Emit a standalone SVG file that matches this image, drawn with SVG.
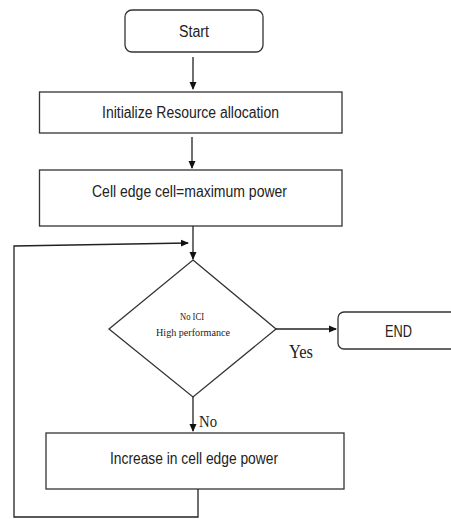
<svg xmlns="http://www.w3.org/2000/svg" width="451" height="519" viewBox="0 0 451 519">
<defs>
<marker id="ah" markerWidth="8" markerHeight="8" refX="7" refY="4" orient="auto" markerUnits="userSpaceOnUse">
<path d="M0,0.5 L8,4 L0,7.5 Z" fill="#111"/>
</marker>
<style>
.box{fill:#fff;stroke:#333;stroke-width:1.3}
.ln{fill:none;stroke:#222;stroke-width:1.3}
.s{font-family:"Liberation Sans",Arial,sans-serif;font-size:16px;fill:#222;text-anchor:middle}
.r{font-family:"Liberation Serif","Times New Roman",serif;fill:#222}
</style>
</defs>
<rect width="451" height="519" fill="#fff"/>
<g id="start">
<rect class="box" x="125" y="10" width="138" height="42" rx="7"/>
<text class="s" x="194" y="37" textLength="30" lengthAdjust="spacingAndGlyphs">Start</text>
</g>
<g id="init">
<rect class="box" x="39.5" y="92" width="302.5" height="41"/>
<text class="s" x="190.5" y="118" textLength="177" lengthAdjust="spacingAndGlyphs">Initialize Resource allocation</text>
</g>
<g id="celledge">
<rect class="box" x="39.5" y="170" width="302.5" height="56"/>
<text class="s" x="189.5" y="197" textLength="195" lengthAdjust="spacingAndGlyphs">Cell edge cell=maximum power</text>
</g>
<g id="decision">
<polygon class="box" points="193,260 276,329 193,397 109,329"/>
<text class="r" font-size="9.5" x="192" y="320" text-anchor="middle" textLength="24" lengthAdjust="spacingAndGlyphs">No ICI</text>
<text class="r" font-size="9.5" x="193" y="336" text-anchor="middle" textLength="74" lengthAdjust="spacingAndGlyphs">High performance</text>
</g>
<g id="end">
<rect class="box" x="338" y="312" width="120" height="37" rx="6"/>
<text class="s" x="398.5" y="337" textLength="27" lengthAdjust="spacingAndGlyphs">END</text>
</g>
<g id="increase">
<rect class="box" x="46" y="433" width="298" height="56"/>
<text class="s" x="194" y="464" textLength="168" lengthAdjust="spacingAndGlyphs">Increase in cell edge power</text>
</g>
<g id="connectors">
<line class="ln" x1="193" y1="57" x2="193" y2="89" marker-end="url(#ah)"/>
<line class="ln" x1="192" y1="137" x2="192" y2="168" marker-end="url(#ah)"/>
<line class="ln" x1="193" y1="226" x2="193" y2="259" marker-end="url(#ah)"/>
<polyline class="ln" points="198,489 198,517 14,517 14,246 188,243" marker-end="url(#ah)"/>
<line class="ln" x1="276" y1="329" x2="336" y2="329" marker-end="url(#ah)"/>
<line class="ln" x1="193" y1="397" x2="193" y2="431" marker-end="url(#ah)"/>
<text class="r" font-size="18" x="289" y="358" textLength="24" lengthAdjust="spacingAndGlyphs">Yes</text>
<text class="r" font-size="17" x="199" y="427" textLength="18" lengthAdjust="spacingAndGlyphs">No</text>
</g>
</svg>
